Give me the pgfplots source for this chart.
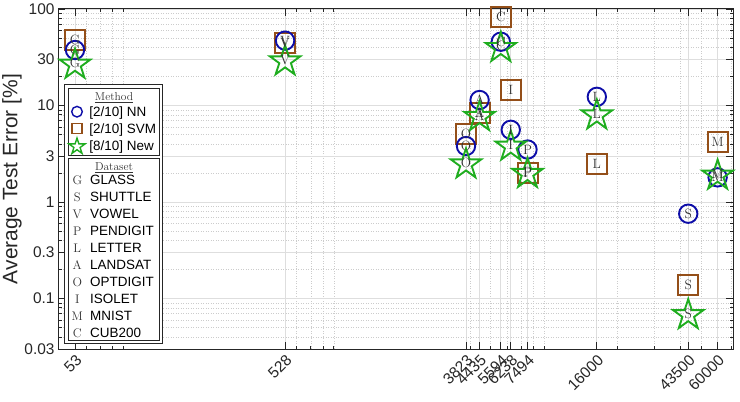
\documentclass[border=0pt]{standalone}
\usepackage{pgfplots}
\pgfplotsset{compat=1.18}
\usepackage{fontspec}
\newfontfamily\hv{Liberation Sans}
\usetikzlibrary{calc}

\definecolor{nnc}{rgb}{0.05,0.05,0.66}
\definecolor{svmc}{rgb}{0.58,0.31,0.10}
\definecolor{newc}{rgb}{0.12,0.68,0.12}
\definecolor{gridc}{gray}{0.87}
\definecolor{axc}{gray}{0.15}
\definecolor{letc}{gray}{0.2}

\newcommand\pgmpt[2]{\pgfpointadd{\pgfqpoint{0pt}{-0.0955\pgfplotmarksize}}{\pgfpointpolar{#1}{#2\pgfplotmarksize}}}
\pgfdeclareplotmark{pentagram}{%
  \pgfpathmoveto{\pgmpt{90}{1}}%
  \pgfpathlineto{\pgmpt{126}{0.382}}%
  \pgfpathlineto{\pgmpt{162}{1}}%
  \pgfpathlineto{\pgmpt{198}{0.382}}%
  \pgfpathlineto{\pgmpt{234}{1}}%
  \pgfpathlineto{\pgmpt{270}{0.382}}%
  \pgfpathlineto{\pgmpt{306}{1}}%
  \pgfpathlineto{\pgmpt{342}{0.382}}%
  \pgfpathlineto{\pgmpt{18}{1}}%
  \pgfpathlineto{\pgmpt{54}{0.382}}%
  \pgfpathclose
  \pgfusepathqstroke
}
\pgfdeclareplotmark{sqbox}{%
  \pgfpathrectanglecorners{\pgfqpoint{-\pgfplotmarksize}{-\pgfplotmarksize}}{\pgfqpoint{\pgfplotmarksize}{\pgfplotmarksize}}%
  \pgfusepathqstroke
}

\pgfplotstableread{
x y lab
53 47.5 G
528 44.5 V
3823 5.05 O
4435 8.4 A
5594 82 C
6238 14.4 I
7494 1.98 P
16000 2.49 L
43500 0.138 S
60000 4.22 M
}\svmdata

\pgfplotstableread{
x y lab
53 37.6 G
528 47 V
3823 3.8 O
4435 11.4 A
5594 45.8 C
6238 5.6 I
7494 3.5 P
16000 12.3 L
43500 0.757 S
60000 1.8 M
}\nndata

\pgfplotstableread{
x y lab
53 27.5 G
528 29.8 V
3823 2.55 O
4435 7.9 A
5594 41 C
6238 3.9 I
7494 2.03 P
16000 8.2 L
43500 0.07 S
60000 1.95 M
}\newdata

\begin{document}
\begin{tikzpicture}
\begin{axis}[
  name=ax,
  scale only axis, width=675bp, height=340bp,
  xmode=log, ymode=log,
  xmin=44, xmax=71000, ymin=0.03, ymax=100,
  xtick={53,528,3823,4435,5594,6238,7494,16000,43500,60000},
  xticklabels={53,528,3823,4435,5594,6238,7494,16000,43500,60000},
  minor xtick={60,70,80,90,600,700,800,900,4000,5000,6000,7000,8000,9000,20000,30000,40000,50000,70000},
  ytick={0.03,0.1,0.3,1,3,10,30,100},
  yticklabels={0.03,0.1,0.3,1,3,10,30,100},
  minor ytick={0.04,0.05,0.06,0.07,0.08,0.09,0.2,0.4,0.5,0.6,0.7,0.8,0.9,2,4,5,6,7,8,9,20,40,50,60,70,80,90},
  grid=both,
  major grid style={gridc, line width=0.7bp},
  minor grid style={gray!40, line width=0.6bp, dash pattern=on 1bp off 1.5bp},
  axis line style={axc, line width=1bp},
  tick style={axc, line width=0.8bp},
  major tick length=7bp, minor tick length=3.5bp,
  tick align=inside,
  xticklabel style={rotate=45, anchor=north east, font=\hv\fontsize{15.5}{18}\selectfont, text=black!85},
  yticklabel style={font=\hv\fontsize{15.5}{18}\selectfont, text=black!85},
  ylabel={Average Test Error [\%]},
  ylabel style={at={(axis description cs:-0.0533,0.5)}, anchor=south, rotate=0, inner sep=0pt, font=\hv\fontsize{21}{24}\selectfont, text=black!85},
  clip=false,
  nodes near coords style={anchor=center, inner sep=0pt, font=\fontsize{13.5}{14}\selectfont},
]
% markers
\addplot[svmc, only marks, mark=sqbox, mark size=10bp, line width=2bp, mark options={solid, line join=miter}] table[x=x, y=y] {\svmdata};
\addplot[nnc, only marks, mark=o, mark size=9.2bp, line width=1.9bp, mark options={solid}] table[x=x, y=y] {\nndata};
\addplot[newc, only marks, mark=pentagram, mark size=16bp, line width=1.9bp, mark options={solid, line join=miter}] table[x=x, y=y] {\newdata};
% dataset letters at the same points
\addplot[letc, draw=none, mark=none, point meta=explicit symbolic, nodes near coords] table[x=x, y=y, meta=lab] {\svmdata};
\addplot[letc, draw=none, mark=none, point meta=explicit symbolic, nodes near coords] table[x=x, y=y, meta=lab] {\nndata};
\addplot[letc, draw=none, mark=none, point meta=explicit symbolic, nodes near coords] table[x=x, y=y, meta=lab] {\newdata};
\end{axis}

\begin{scope}[shift={(ax.south west)}, x=1bp, y=1bp]
  \draw[axc, line width=0.7bp, fill=white] (6,6) rectangle (104,265);
  \draw[axc, line width=0.7bp] (10,193.3) rectangle (101.7,261);
  \draw[axc, line width=0.7bp] (10,9) rectangle (101.7,190.7);
  \node[anchor=base, inner sep=0pt, font=\fontsize{11.5}{12}\selectfont, text=letc] at (56,248.3) {\underline{Method}};
  \draw[nnc, line width=1.4bp] (19,237.3) circle (5.3);
  \draw[svmc, line width=1.4bp] (14,215.7) rectangle (24,225.7);
  \draw[newc, line width=1.4bp, line join=miter, shift={(19,202.5)}]
    (90:8.5) -- (126:3.25) -- (162:8.5) -- (198:3.25) -- (234:8.5) -- (270:3.25) -- (306:8.5) -- (342:3.25) -- (18:8.5) -- (54:3.25) -- cycle;
  \begin{scope}[every node/.style={anchor=base west, inner sep=0pt, font=\hv\fontsize{13.5}{15}\selectfont}]
    \node at (31.3,232.5) {[2/10] NN};
    \node at (31.3,215.9) {[2/10] SVM};
    \node at (31.3,198.5) {[8/10] New};
  \end{scope}
  \node[anchor=base, inner sep=0pt, font=\fontsize{11.5}{12}\selectfont, text=letc] at (56,178.3) {\underline{Dataset}};
  \foreach \yy/\ll/\nn in {169/G/GLASS, 152/S/SHUTTLE, 135/V/VOWEL, 118/P/PENDIGIT, 101/L/LETTER, 84/A/LANDSAT, 67/O/OPTDIGIT, 50/I/ISOLET, 33/M/MNIST, 16/C/CUB200}{
    \node[anchor=base, inner sep=0pt, font=\fontsize{12.5}{13}\selectfont, text=letc] at (19.3,\yy-4.3) {\ll};
    \node[anchor=base west, inner sep=0pt, font=\hv\fontsize{13.5}{15}\selectfont] at (32,\yy-4.8) {\nn};
  }
\end{scope}

\pgfresetboundingbox
\useasboundingbox ($(ax.south west)+(-58bp,-53bp)$) rectangle ($(ax.north east)+(7bp,9bp)$);
\end{tikzpicture}
\end{document}
